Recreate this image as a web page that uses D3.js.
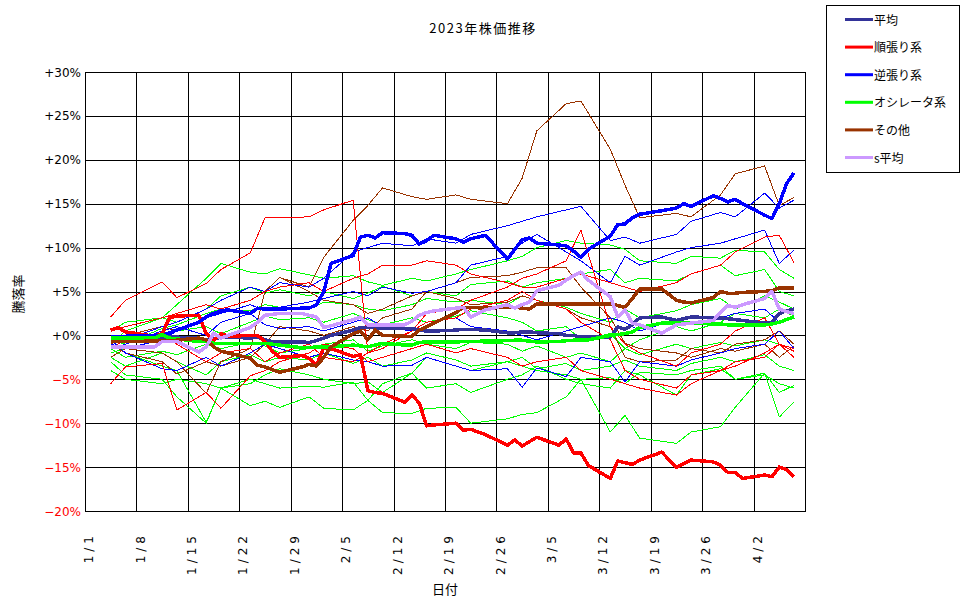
<!DOCTYPE html>
<html>
<head>
<meta charset="utf-8">
<script src="https://cdn.jsdelivr.net/npm/d3@7"></script>
<style>
  body { margin: 0; background: #fff; }
  text { font-family: "DejaVu Sans", "Noto Sans CJK JP", sans-serif; }
  .jp { font-family: "Noto Sans CJK JP", sans-serif; }
</style>
</head>
<body>
<div id="chart"></div>
<script>
// trading days (2023)
const tradingDays = ["1/4","1/5","1/6","1/10","1/11","1/12","1/13","1/16","1/17","1/18","1/19","1/20","1/23","1/24","1/25","1/26","1/27","1/30","1/31",
  "2/1","2/2","2/3","2/6","2/7","2/8","2/9","2/10","2/13","2/14","2/15","2/16","2/17","2/20","2/21","2/22","2/24","2/27","2/28",
  "3/1","3/2","3/3","3/6","3/7","3/8","3/9","3/10","3/13","3/14","3/15","3/16","3/17","3/20","3/22","3/23","3/24","3/27","3/28","3/29","3/30","3/31",
  "4/3","4/4","4/5","4/6","4/7"];

// group averages (%)
const heikin = [-0.3,-0.3,-0.4,-0.3,-0.2,-0.1,-0.2,-0.3,-0.5,-0.4,-0.2,-0.2,-0.3,-0.2,-0.5,-0.7,-0.75,-0.75,-0.8,
  -0.6,-0.3,0.0,0.6,0.9,0.9,0.9,0.8,0.8,0.8,0.6,0.5,0.5,0.6,0.7,0.7,0.6,0.3,0.3,
  0.4,0.4,0.3,0.2,0.0,0.0,-0.2,-0.2,-0.2,0.95,0.7,1.2,2.0,2.1,1.7,1.9,2.1,2.0,2.0,1.9,1.8,1.7,
  1.4,1.5,2.5,2.8,3.0];
const junbari = [0.6,0.9,0.4,-0.1,0.2,2.0,2.2,2.3,0.2,-0.6,0.2,-0.1,0.0,0.0,-0.7,-1.8,-2.5,-2.3,-2.6,
  -3.4,-1.4,-1.5,-2.4,-2.2,-6.3,-6.5,-6.6,-7.6,-6.8,-7.7,-10.3,-10.2,-10.0,-10.8,-10.7,-11.3,-12.5,-11.9,
  -12.6,-12.1,-11.6,-12.5,-11.8,-13.4,-13.4,-14.8,-16.3,-14.3,-14.5,-14.7,-14.2,-13.3,-15.0,-14.6,-14.2,-14.4,-14.8,-15.6,-15.6,-16.3,
  -15.9,-16.1,-15.0,-15.3,-16.1];
const gyakubari = [-0.2,-0.1,-0.1,0.0,0.0,0.3,0.6,1.5,2.1,2.5,2.8,2.9,2.5,3.1,3.0,3.0,3.0,3.1,3.1,
  3.5,5.0,8.2,9.1,11.2,11.4,11.1,11.7,11.6,11.4,10.4,10.8,11.4,11.0,10.6,11.0,11.4,8.7,9.8,
  10.9,11.1,10.5,10.3,10.2,9.6,8.9,9.8,11.3,12.6,12.7,13.4,13.8,14.2,14.5,15.0,14.7,15.9,15.6,15.2,15.5,15.0,
  13.7,13.3,15.0,17.3,18.5];
const oscillator = [-0.3,-0.3,-0.3,-0.3,0.1,-0.3,-0.4,-0.7,-0.7,-0.9,-0.9,-0.9,-0.9,-0.9,-0.9,-1.0,-1.1,-1.4,-1.4,
  -1.3,-1.3,-1.3,-1.1,-1.2,-1.3,-1.1,-0.9,-1.1,-1.1,-0.8,-0.75,-0.75,-0.75,-0.7,-0.7,-0.65,-0.6,-0.55,
  -0.55,-0.65,-0.75,-0.7,-0.6,-0.55,-0.55,-0.5,0.0,0.1,0.2,0.4,0.9,1.4,1.4,1.4,1.4,1.3,1.3,1.2,1.2,1.2,
  1.2,1.3,1.5,1.8,2.1];
const sonota = [-0.7,-0.7,-0.7,-0.65,-0.65,-0.6,-0.55,-0.3,-0.5,-1.3,-1.8,-2.0,-2.6,-3.4,-3.6,-3.9,-4.2,-3.6,-3.3,
  -3.5,-2.5,-1.3,0.2,0.5,-0.5,0.6,0.0,-0.1,-0.1,0.6,1.0,1.4,2.6,3.2,3.2,3.1,3.2,3.2,
  3.1,3.0,3.6,3.6,3.6,3.6,3.6,3.6,3.6,3.4,3.2,4.2,5.3,5.3,4.0,3.8,3.7,4.3,5.0,4.8,4.8,4.9,
  5.0,5.1,5.4,5.4,5.4];
const sHeikin = [-1.3,-1.3,-1.3,-1.3,-0.7,-0.7,-0.7,-1.9,-1.3,0.25,-0.3,0.0,0.9,1.5,2.3,2.4,2.5,2.5,2.3,
  2.1,0.9,1.1,1.8,2.1,1.2,1.2,1.2,1.2,1.6,2.3,2.6,2.8,3.1,3.2,2.1,2.9,3.5,3.1,
  3.5,3.8,5.1,5.7,6.3,6.8,7.2,6.3,4.4,2.1,2.9,1.4,1.2,0.25,1.2,1.3,1.4,1.7,2.6,3.4,3.2,3.5,
  4.2,5.0,3.0,2.7,2.5];

// individual stocks, read every other trading day
const sampleDays = ["1/4","1/6","1/11","1/13","1/17","1/19","1/23","1/25","1/27","1/31","2/2","2/6","2/8","2/10","2/14","2/16","2/20","2/22","2/27",
  "3/1","3/3","3/7","3/9","3/13","3/15","3/17","3/22","3/24","3/28","3/30","4/3","4/5","4/7"];
const junbariStocks = [
  [2.1,4.0,6.1,4.3,5.9,7.5,9.4,13.4,13.4,13.5,14.3,15.4,-2.0,-1.5,0.5,2.5,3.0,4.0,5.5,6.5,7.0,8.5,12.0,1.0,-1.0,-2.0,-3.5,-2.0,-1.0,0.5,2.0,-1.0,-1.8],
  [-5.5,-3.6,-3.2,-8.5,-6.5,-8.3,-4.6,-4.0,-3.0,-2.0,-1.0,-1.5,-3.0,-2.5,-1.5,-1.0,-2.0,-1.5,-2.5,-3.5,-3.0,-2.5,-4.0,-5.0,-5.5,-6.0,-6.8,-5.5,-4.0,-3.0,-2.5,-1.0,-1.5],
  [0.5,1.0,2.0,2.5,3.5,3.0,4.0,5.0,5.5,6.0,5.0,6.5,7.0,8.0,8.0,8.5,8.0,7.0,6.0,5.5,5.5,6.5,7.0,6.0,5.5,5.0,6.0,7.0,8.0,9.5,11.2,11.4,8.3],
  [-1.5,-0.5,0.0,-1.0,-3.0,-2.0,-1.5,-3.0,-2.0,-1.0,-2.5,-3.0,-2.0,-1.0,0.5,1.5,2.0,3.0,4.0,5.0,4.0,3.0,1.5,-0.5,-4.0,-5.0,-6.0,-4.5,-4.0,-3.5,-2.0,-1.0,-2.5]
];
const gyakubariStocks = [
  [0.0,-0.5,1.0,1.5,3.0,4.0,5.5,5.0,6.0,5.5,6.5,9.5,10.0,10.5,10.2,11.0,10.5,11.5,12.5,13.0,13.5,14.3,14.7,10.8,11.2,10.5,11.5,13.0,14.0,13.5,16.2,14.5,15.4],
  [-1.0,-1.5,-0.5,0.5,2.0,2.5,3.5,2.8,3.2,3.8,4.2,5.0,4.5,5.5,4.8,5.0,6.0,8.0,9.0,10.5,11.5,9.5,8.5,6.0,9.0,8.0,9.5,10.0,10.5,11.0,12.0,8.2,9.7],
  [-0.5,-2.0,-3.8,-4.0,-2.5,-3.5,-2.0,-1.0,-1.5,-2.5,-2.0,-2.8,-3.0,-3.5,-3.4,-2.5,-3.5,-4.0,-3.8,-5.9,-3.7,-4.7,-2.5,-3.0,-5.3,-3.0,-3.5,-2.8,-2.0,-1.5,-1.0,0.5,-1.5],
  [-1.5,-1.0,0.5,1.0,0.0,1.5,2.5,1.2,0.8,1.0,0.5,1.5,2.0,1.0,0.5,1.5,2.0,1.0,0.5,0.0,-0.5,0.5,1.0,2.0,1.5,0.5,1.8,1.2,2.0,2.5,3.0,1.5,2.0]
];
const oscillatorStocks = [
  [0.5,1.5,2.0,3.5,6.5,8.2,7.2,7.0,7.6,6.9,6.5,6.8,6.1,5.7,6.5,6.2,7.0,7.5,8.5,9.0,10.0,10.8,10.5,10.3,9.8,8.5,8.2,9.0,8.8,9.7,9.5,7.5,6.5],
  [-1.0,0.5,2.0,1.5,3.0,4.5,5.5,4.8,5.2,4.5,5.0,4.2,4.8,5.6,4.5,5.0,4.5,5.8,6.2,5.5,6.0,6.5,7.0,7.5,6.0,6.5,6.2,7.0,8.0,6.8,7.5,5.0,4.5],
  [-0.5,-1.0,0.8,1.2,2.5,3.0,2.8,3.5,3.2,3.0,3.8,3.5,3.0,2.8,3.5,4.2,3.8,4.0,3.5,4.5,4.0,3.2,2.5,1.5,3.0,2.0,2.8,3.5,4.2,3.0,4.5,3.8,3.0],
  [-2.0,-1.5,-0.5,0.5,1.0,0.2,1.5,2.2,1.8,2.0,1.5,2.5,1.8,1.2,2.0,1.5,2.2,2.8,2.0,1.5,0.5,1.0,-0.5,0.2,-1.5,-0.5,1.0,0.5,1.5,2.5,2.0,3.0,2.2],
  [-1.5,-2.5,-1.8,-2.2,-1.0,-1.5,-0.8,-1.2,-2.0,-1.5,-1.0,-0.5,-1.8,-1.2,-0.5,-1.0,-1.5,-0.8,-1.0,-1.8,-1.2,-2.5,-2.0,-3.0,-1.5,-2.2,-1.0,-1.5,-0.8,-1.2,-0.5,-1.0,-1.5],
  [-2.5,-3.5,-2.0,-3.0,-4.5,-3.0,-2.2,-3.0,-2.5,-2.8,-2.0,-3.2,-2.5,-3.5,-2.8,-2.0,-2.8,-3.5,-3.0,-2.5,-3.8,-3.2,-4.0,-3.5,-2.8,-3.5,-4.0,-3.2,-2.5,-3.0,-2.2,-3.5,-4.0],
  [-3.0,-4.5,-5.0,-7.0,-10.0,-6.0,-5.5,-4.5,-3.8,-4.5,-5.0,-5.5,-5.3,-6.5,-4.3,-2.5,-3.5,-4.0,-3.0,-3.5,-4.0,-4.5,-5.0,-4.8,-5.5,-4.2,-4.5,-4.0,-3.5,-5.0,-4.3,-6.5,-5.7],
  [-1.0,-2.0,-3.5,-4.0,-9.9,-6.0,-8.0,-7.5,-8.2,-7.0,-8.3,-8.5,-7.4,-8.8,-8.9,-8.3,-8.2,-10.0,-9.5,-9.0,-8.8,-7.0,-5.0,-11.0,-9.1,-11.7,-12.3,-11.0,-10.4,-8.2,-4.3,-9.3,-7.6],
  [-4.0,-5.0,-5.5,-5.0,-5.5,-6.0,-5.0,-5.5,-6.0,-5.8,-5.9,-5.3,-7.4,-5.5,-4.3,-6.0,-5.5,-6.5,-5.0,-4.5,-3.5,-5.0,-5.5,-6.0,-4.0,-4.5,-6.8,-4.5,-3.8,-5.0,-4.5,-5.5,-6.0]
];
const sonotaStocks = [
  [-1.0,0.0,1.0,0.5,2.0,3.0,4.0,5.0,6.6,5.5,8.9,13.1,14.8,16.8,15.8,15.5,16.0,15.5,15.0,17.9,23.3,26.4,26.7,21.2,17.1,13.4,13.9,13.5,16.0,18.4,19.3,14.8,15.7],
  [-1.0,-2.0,-3.0,-4.4,-3.0,-3.5,-2.5,-1.0,1.0,0.5,0.0,1.0,0.5,2.0,3.0,5.0,6.0,6.6,6.8,7.2,7.7,7.7,5.5,2.0,-0.9,-1.5,-2.0,-2.5,-1.5,-1.8,-1.0,-2.5,-1.2],
  [-2.5,-1.5,-2.0,-3.0,-6.6,-3.0,-1.5,5.0,6.6,5.0,4.0,3.5,2.5,3.0,4.5,5.0,4.2,3.5,3.8,4.5,4.0,3.0,2.0,1.0,-2.5,-3.0,-2.8,-1.5,-2.0,-1.0,-0.5,0.5,-1.0]
];

const xTickDays = ["1/1","1/8","1/15","1/22","1/29","2/5","2/12","2/19","2/26","3/5","3/12","3/19","3/26","4/2"];
const yTicks = [30, 25, 20, 15, 10, 5, 0, -5, -10, -15, -20];
const legendNames = ["平均", "順張り系", "逆張り系", "オシレータ系", "その他", "s平均"];
const legendColors = ["#333399", "#FF0000", "#0000FF", "#00FF00", "#993300", "#CC99FF"];

const width = 970;
const height = 604;
const plot = { left: 85, right: 805, top: 72, bottom: 511 };

const toDate = (s, hour = 0) => {
  const [m, d] = s.split("/").map(Number);
  return new Date(2023, m - 1, d, hour);
};

const x = d3.scaleTime()
  .domain([toDate("1/1"), toDate("4/9")])
  .range([plot.left, plot.right]);
const y = d3.scaleLinear().domain([-20, 30]).range([plot.bottom, plot.top]);

const svg = d3.select("#chart").append("svg")
  .attr("width", width)
  .attr("height", height);

svg.append("rect").attr("width", width).attr("height", height).attr("fill", "#fff");

// grid
const grid = svg.append("g").attr("shape-rendering", "crispEdges");
grid.selectAll(".hgrid")
  .data(yTicks)
  .enter()
  .append("line")
  .attr("x1", plot.left)
  .attr("x2", plot.right)
  .attr("y1", (d) => Math.round(y(d)) + 0.5)
  .attr("y2", (d) => Math.round(y(d)) + 0.5)
  .attr("stroke", "#000");
grid.selectAll(".vgrid")
  .data(xTickDays)
  .enter()
  .append("line")
  .attr("x1", (d) => Math.round(x(toDate(d))) + 0.5)
  .attr("x2", (d) => Math.round(x(toDate(d))) + 0.5)
  .attr("y1", plot.top)
  .attr("y2", plot.bottom)
  .attr("stroke", "#000");
grid.append("rect")
  .attr("x", plot.left + 0.5)
  .attr("y", plot.top + 0.5)
  .attr("width", plot.right - plot.left)
  .attr("height", plot.bottom - plot.top)
  .attr("fill", "none")
  .attr("stroke", "#000");

// y labels
svg.append("g")
  .selectAll("text")
  .data(yTicks)
  .enter()
  .append("text")
  .attr("x", 81)
  .attr("y", (d) => y(d) + 4.5)
  .attr("text-anchor", "end")
  .style("font-size", "12px")
  .attr("fill", (d) => (d < 0 ? "#FF0000" : "#000"))
  .text((d) => (d < 0 ? "\u2212" + Math.abs(d) : "+" + d) + "%");

// x labels (rotated)
svg.append("g")
  .selectAll("text")
  .data(xTickDays)
  .enter()
  .append("text")
  .attr("transform", (d) => `translate(${x(toDate(d, 12)) + 4.5},532) rotate(-90)`)
  .attr("text-anchor", "end")
  .style("font-size", "12px")
  .style("letter-spacing", "4px")
  .text((d) => d);

// axis titles
svg.append("text")
  .attr("class", "jp")
  .attr("x", 483)
  .attr("y", 33)
  .attr("text-anchor", "middle")
  .style("font-size", "13px")
  .style("letter-spacing", "1.5px")
  .text("2023年株価推移");
svg.append("text")
  .attr("class", "jp")
  .attr("x", 445)
  .attr("y", 594)
  .attr("text-anchor", "middle")
  .style("font-size", "13px")
  .text("日付");
svg.append("text")
  .attr("class", "jp")
  .attr("transform", "translate(23,294) rotate(-90)")
  .attr("text-anchor", "middle")
  .style("font-size", "13px")
  .text("騰落率");

// lines
const line = (days) =>
  d3.line()
    .x((d, i) => x(toDate(days[i], 12)))
    .y((d) => y(d));

const lines = svg.append("g")
  .attr("fill", "none")
  .attr("stroke-linejoin", "round")
  .attr("shape-rendering", "crispEdges");

const thinGroups = [
  [oscillatorStocks, legendColors[3]],
  [sonotaStocks, legendColors[4]],
  [gyakubariStocks, legendColors[2]],
  [junbariStocks, legendColors[1]],
];
thinGroups.forEach(([stocks, color]) => {
  lines.selectAll(null)
    .data(stocks)
    .enter()
    .append("path")
    .attr("d", line(sampleDays))
    .attr("stroke", color)
    .attr("stroke-width", 1);
});

const thickSeries = [heikin, junbari, gyakubari, oscillator, sonota, sHeikin];
lines.selectAll(null)
  .data(thickSeries)
  .enter()
  .append("path")
  .attr("d", line(tradingDays))
  .attr("stroke", (d, i) => legendColors[i])
  .attr("stroke-width", 3.5);

// legend
const legend = svg.append("g");
legend.append("rect")
  .attr("x", 826.5)
  .attr("y", 5.5)
  .attr("width", 133)
  .attr("height", 167)
  .attr("fill", "#fff")
  .attr("stroke", "#000");
const item = legend.selectAll(".item")
  .data(legendNames)
  .enter()
  .append("g")
  .attr("transform", (d, i) => `translate(0,${19.5 + i * 27.6})`);
item.append("line")
  .attr("x1", 845)
  .attr("x2", 873)
  .attr("stroke", (d, i) => legendColors[i])
  .attr("stroke-width", 3);
item.append("text")
  .attr("class", "jp")
  .attr("x", 874)
  .attr("y", 5)
  .style("font-size", "12px")
  .text((d) => d);
</script>
</body>
</html>
